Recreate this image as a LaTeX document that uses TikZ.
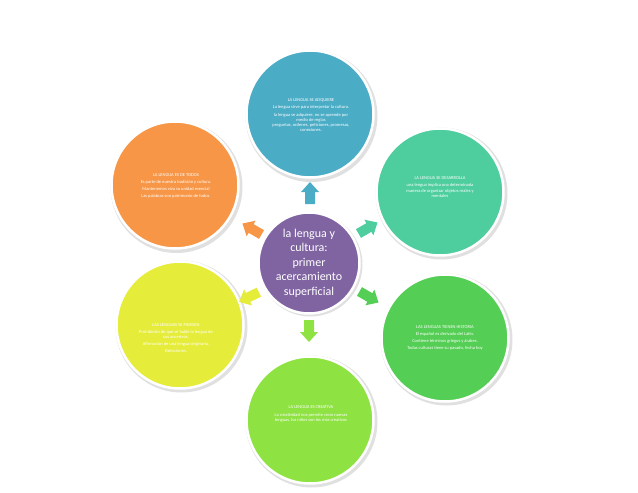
\documentclass[tikz,border=0pt]{standalone}
\usepackage{fontspec}
\setmainfont{Carlito}
\definecolor{cblue}{RGB}{75,172,198}
\definecolor{cteal}{RGB}{78,205,158}
\definecolor{cgreen}{RGB}{84,206,84}
\definecolor{clime}{RGB}{142,226,66}
\definecolor{cyellow}{RGB}{230,236,58}
\definecolor{corange}{RGB}{247,150,70}
\definecolor{cpurple}{RGB}{128,100,162}
\tikzset{
  outer/.style={circle, fill=#1, draw=white, line width=2.5pt, minimum size=127pt, inner sep=0pt},
  shade/.style={circle, fill=black!12, minimum size=132pt, inner sep=0pt},
  tiny/.style={text=white, align=center, font=\fontsize{4.5}{7.2}\selectfont},
}
\newcommand{\blockarrow}[4]{% color, x, y, angle
  \begin{scope}[shift={(#2,#3)}, rotate=#4]
    \fill[#1] (-11,-5) -- (1,-5) -- (1,-9) -- (11,0) -- (1,9) -- (1,5) -- (-11,5) -- cycle;
  \end{scope}}
\begin{document}
\begin{tikzpicture}[x=1pt,y=-1pt]
\useasboundingbox (0,0) rectangle (638,493);
% shadows
\foreach \p in {(311.5,116),(441.5,193.5),(446.5,339.5),(311.5,421.5),(181.5,326.5),(176.5,187)}
  \node[shade] at \p {};
\node[circle, fill=black!12, minimum size=104pt] at (310.5,264.5) {};
% outer circles
\node[outer=cblue] (top) at (310,114) {};
\node[outer=cteal] (tr) at (440,192) {};
\node[outer=cgreen] (br) at (445,338) {};
\node[outer=clime] (bot) at (310,420) {};
\node[outer=cyellow] (bl) at (180,325) {};
\node[outer=corange] (lft) at (175,185) {};
% center
\node[circle, fill=cpurple, draw=white, line width=2.5pt, minimum size=101pt, inner sep=0pt] (c) at (309,263) {};
\node[text=white, align=center, font=\fontsize{12}{14.5}\selectfont] (ct) at (309,263) {la lengua y\\cultura:\\primer\\acercamiento\\superficial};
% texts
\node[tiny] (ttop) at (311,115) {LA LENGUA SE ADQUIERE\\La lengua sirve para interpretar la cultura.\\la lengua se adquiere, no se aprende por\\[-2.2pt]medio de reglas\\[-2.2pt]preguntas, ordenes, peticiones, promesas,\\[-2.2pt]conexiones.};
\node[tiny] (ttr) at (440,187) {LA LENGUA SE DESARROLLA\\una lengua implica una determinada\\[-2pt]manera de organizar objetos reales y\\[-2pt]mentales};
\node[tiny] (tbr) at (445,338) {LAS LENGUAS TIENEN HISTORIA\\El español es derivado del Latín.\\Contiene términos griegos y árabes.\\Todas culturas tiene su pasado, fecha hoy};
\node[tiny] (tbot) at (311,414) {LA LENGUA ES CREATIVA\\La creatividad nos permite crear nuevas\\[-2pt]lenguas, los niños son los más creativos};
\node[tiny] (tbl) at (176,338) {LAS LENGUAS SE PIERDEN\\Prohibición de que se hable la lengua de\\[-2pt]sus ancestros.\\Afirmación de una lengua originaria.\\Extinciones.};
\node[tiny] (tlft) at (176,186) {LA LENGUA ES DE TODOS\\Es parte de nuestra tradición y cultura.\\Mantenemos viva su unidad esencial\\Las palabras son patrimonio de todos.};
% arrows
\blockarrow{cblue}{310}{193}{90}
\blockarrow{cteal}{368}{228}{30}
\blockarrow{cgreen}{369}{297}{-30}
\blockarrow{clime}{309}{331}{-90}
\blockarrow{cyellow}{249}{297}{206}
\blockarrow{corange}{252}{229}{150}
\end{tikzpicture}
\end{document}
